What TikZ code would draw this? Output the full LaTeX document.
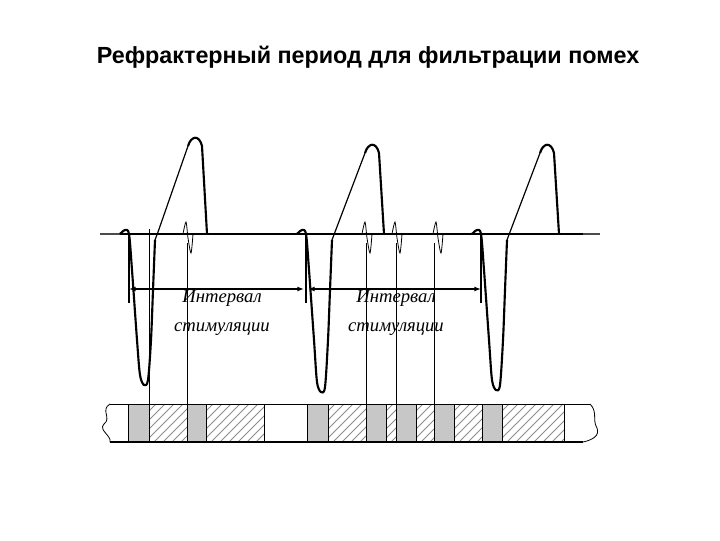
\documentclass[tikz,border=0pt]{standalone}
\usepackage{fontspec}
\setmainfont{Liberation Serif}
\setsansfont{Liberation Sans}
\usetikzlibrary{arrows.meta}
\begin{document}
\begin{tikzpicture}[x=0.75pt,y=-0.75pt,
  wave/.style={line width=1.6pt,line join=round},
  thin/.style={line width=0.6pt},
  graycell/.style={fill=black!22,draw=black,line width=0.6pt},
  cell/.style={draw=black,line width=0.6pt},
  lbl/.style={font=\itshape\fontsize{14}{14}\selectfont,align=center}]
\useasboundingbox (0,0) rectangle (720,540);
\node (title) at (368,57) {\sffamily\bfseries\fontsize{17.5}{20}\selectfont Рефрактерный период для фильтрации помех};
% baseline
\draw[line width=1pt,black!70] (100,234) -- (600,234);
\draw[wave] (120,234) -- (583,234);
% pulses
\foreach \o/\d/\p in {0/0/0, 177/7/7, 352/5/7}{
  \draw[wave] plot[smooth,tension=0.5] coordinates {(120+\o,234) (125+\o,230) (129+\o,234) (132+\o,270) (137+\o,340) (140+\o,375+\d) (144+\o,385+\d) (148+\o,380+\d) (151+\o,340) (153+\o,290) (155+\o,240)};
  \draw[line width=0.9pt] (155+\o,240) -- (158+\o,232) -- (188+\o,146+\p);
  \draw[wave] (188+\o,146+\p) .. controls (191+\o,136+\p) and (199+\o,134+\p) .. (202+\o,146+\p) -- (207+\o,234);
  \draw[wave] (129+\o,234) -- (129+\o,303);
}
% noise
\foreach \x in {187,366,396,437}{
  \draw[thin] plot[smooth,tension=0.5] coordinates {(\x-4,234) (\x-1,222) (\x+1,238) (\x+4,253) (\x+6,234)};
}
% vertical lines
\draw[thin] (149,229) -- (149,404);
\foreach \x in {187,366,396,434}{ \draw[thin] (\x,243) -- (\x,404); }
% interval arrows
\coordinate (a1) at (129,289); \coordinate (b1) at (304,289);
\coordinate (a2) at (308,289); \coordinate (b2) at (481,289);
\draw[line width=1pt,{Latex[length=5pt]}-{Latex[length=5pt]}] (a1) -- (b1);
\draw[line width=1pt,{Latex[length=5pt]}-{Latex[length=5pt]}] (a2) -- (b2);
\node[lbl] (l1) at (222,313) {Интервал\\[8pt]стимуляции};
\node[lbl] (l2) at (396,313) {Интервал\\[8pt]стимуляции};
% bar
\foreach \a/\b in {128/149,187/206,307/328,366/386,396/416,434/454,482/502}{
  \draw[graycell] (\a,404) rectangle (\b,442);}
\foreach \a/\b in {149/187,206/264,328/366,386/396,416/434,454/482,502/564}{
  \begin{scope}
    \clip (\a,404) rectangle (\b,442);
    \foreach \k in {0,9,...,120}{ \draw[black!45,line width=0.6pt] (\a-40+\k,442) -- (\a-2+\k,404); }
  \end{scope}
  \draw[cell] (\a,404) rectangle (\b,442);}
\draw[thin] (264,404) -- (264,442);
\draw[thin] (110,404) -- (590,404);
\draw[line width=1.2pt] (110,442) -- (583,442);
\draw[thin] (110,404) .. controls (100,410) and (112,418) .. (104,424) .. controls (98,430) and (112,436) .. (110,442);
\draw[thin] (590,404) .. controls (598,412) and (592,420) .. (597,428) .. controls (600,436) and (592,440) .. (583,442);
\end{tikzpicture}
\end{document}
